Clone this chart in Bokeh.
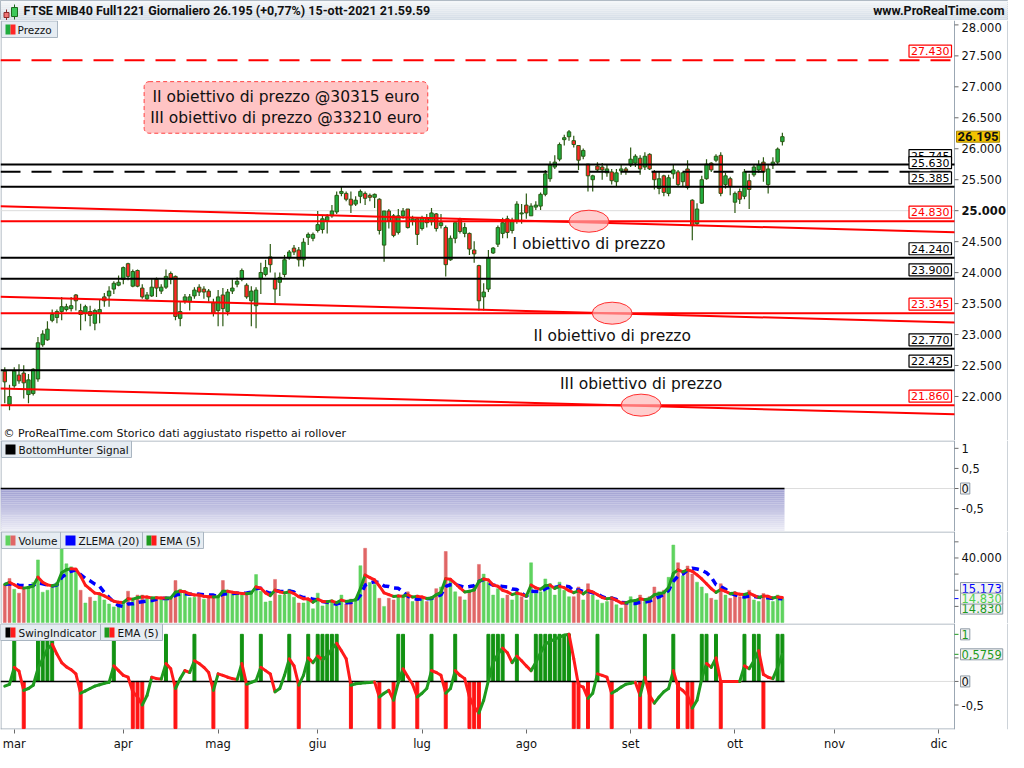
import numpy as np
from bokeh.plotting import figure
from bokeh.models import Range1d, FixedTicker, Label, BoxAnnotation, ColumnDataSource
from bokeh.layouts import column
from bokeh.embed import file_html
from bokeh.resources import INLINE

# ---------------- DATA ----------------
bar_index = list(range(-2, 163))

opens = [22409, 21873, 22173, 22346, 22378, 22031, 22047, 22283, 22835, 22914,
         23229, 23276, 23371, 23403, 23418, 23639, 23387, 23340, 23371, 23182,
         23340, 23608, 23624, 23734, 23797, 23891, 24144, 23781, 24034, 23750,
         23576, 23624, 23891, 23702, 23765, 23986, 23939, 23261, 23545, 23529,
         23624, 23765, 23734, 23702, 23513, 23387, 23639, 23371, 23702, 23813,
         23891, 23797, 23545, 23466, 23907, 23970, 24254, 23891, 23844, 23970,
         24239, 24396, 24365, 24207, 24570, 24554, 24680, 24696, 24838, 24917,
         24980, 25279, 25279, 25185, 25106, 25232, 25279, 25248, 25216, 25185,
         24444, 24995, 24917, 24649, 24917, 25027, 24838, 24869, 24712, 24869,
         24822, 24948, 24759, 24728, 24207, 24554, 24869, 24633, 24633, 24365,
         24113, 23608, 23734, 24317, 24459, 24633, 24869, 24680, 24838, 24948,
         25090, 24917, 25058, 25074, 25264, 25516, 25705, 25832, 26147, 26194,
         26131, 26052, 25879, 25752, 25500, 25721, 25705, 25611, 25626, 25468,
         25642, 25674, 25737, 25768, 25847, 25705, 25910, 25626, 25358, 25563,
         25279, 25595, 25626, 25468, 25674, 25169, 24790, 25122, 25516, 25768,
         25815, 25894, 25421, 25516, 25137, 25311, 25232, 25484, 25579, 25658,
         25784, 25421, 25737, 25784, 26115]
highs = [22472, 22189, 22472, 22520, 22504, 22362, 22456, 22961, 23071, 23213,
         23403, 23403, 23608, 23497, 23608, 23655, 23497, 23482, 23466, 23418,
         23560, 23671, 23781, 23860, 23954, 24097, 24160, 24049, 24049, 23813,
         23686, 23891, 23923, 23813, 24049, 24018, 23954, 23529, 23655, 23655,
         23765, 23813, 23781, 23734, 23576, 23718, 23750, 23734, 23891, 23923,
         24065, 23828, 23781, 23765, 24160, 24207, 24460, 24002, 24002, 24286,
         24365, 24444, 24412, 24554, 24649, 24649, 24995, 24917, 24948, 25090,
         25311, 25390, 25311, 25311, 25232, 25342, 25311, 25279, 25279, 25200,
         24995, 25027, 24948, 25027, 25043, 25027, 24917, 24885, 24917, 24948,
         25043, 24964, 24948, 24759, 24601, 24806, 24885, 24806, 24649, 24507,
         24128, 23828, 24365, 24412, 24759, 24885, 24917, 24885, 25153, 25106,
         25279, 25122, 25153, 25295, 25658, 25800, 25894, 26099, 26226, 26304,
         26210, 26052, 26005, 25752, 25579, 25784, 25768, 25737, 25674, 25674,
         25737, 25705, 26020, 25910, 25894, 25942, 25926, 25658, 25626, 25579,
         25579, 25752, 25658, 25626, 25815, 25185, 25122, 25563, 25832, 25784,
         25910, 25942, 25611, 25547, 25311, 25358, 25674, 25595, 25752, 25815,
         25863, 25752, 25863, 26020, 26257]
lows = [21889, 21779, 22142, 22204, 21968, 21889, 22015, 22236, 22803, 22898,
        23198, 23182, 23229, 23371, 23371, 23387, 23071, 23213, 23135, 23071,
        23182, 23450, 23450, 23655, 23781, 23813, 23876, 23765, 23765, 23576,
        23545, 23608, 23608, 23655, 23734, 23813, 23229, 23135, 23497, 23387,
        23576, 23624, 23576, 23529, 23292, 23135, 23135, 23308, 23655, 23765,
        23860, 23576, 23135, 23103, 23655, 23939, 24002, 23497, 23624, 23923,
        24207, 24286, 24097, 24097, 24444, 24507, 24649, 24633, 24633, 24885,
        24948, 25232, 25153, 24964, 25074, 25122, 25090, 25153, 25043, 24617,
        24176, 24712, 24570, 24617, 24869, 24712, 24759, 24444, 24680, 24727,
        24759, 24664, 24712, 23939, 24191, 24475, 24633, 24570, 24286, 24160,
        23387, 23387, 23686, 24302, 24412, 24554, 24554, 24633, 24790, 24790,
        24869, 24917, 25011, 25011, 25232, 25468, 25674, 25800, 26052, 26131,
        26020, 25658, 25832, 25311, 25311, 25626, 25500, 25547, 25421, 25390,
        25579, 25579, 25705, 25705, 25579, 25658, 25658, 25342, 25264, 25232,
        25232, 25516, 25390, 25390, 25342, 24522, 24759, 25106, 25500, 25626,
        25784, 25232, 25358, 25248, 24964, 25106, 25185, 25027, 25547, 25611,
        25468, 25279, 25674, 25737, 26052]
closes = [22236, 21999, 22409, 22252, 22220, 22268, 22440, 22867, 23008, 23087,
          23324, 23371, 23450, 23450, 23466, 23545, 23324, 23450, 23308, 23387,
          23403, 23545, 23702, 23828, 23844, 24081, 23939, 24018, 23781, 23608,
          23639, 23765, 23750, 23765, 23939, 23891, 23292, 23371, 23608, 23608,
          23718, 23686, 23686, 23608, 23340, 23608, 23418, 23686, 23750, 23860,
          24034, 23608, 23702, 23718, 24002, 24081, 24128, 23734, 23923, 24207,
          24333, 24333, 24207, 24491, 24617, 24617, 24775, 24869, 24901, 24995,
          25248, 25311, 25185, 25090, 25169, 25311, 25200, 25216, 25264, 24680,
          24995, 24838, 24601, 24917, 24995, 24727, 24869, 24617, 24885, 24806,
          24964, 24712, 24806, 24128, 24554, 24806, 24664, 24727, 24380, 24302,
          23545, 23686, 24239, 24396, 24727, 24806, 24649, 24838, 25106, 24964,
          24964, 25074, 25090, 25264, 25595, 25737, 25784, 26068, 26178, 26273,
          26068, 25815, 25973, 25563, 25563, 25658, 25658, 25674, 25484, 25611,
          25674, 25642, 25832, 25879, 25674, 25879, 25674, 25500, 25516, 25295,
          25532, 25658, 25421, 25611, 25374, 24759, 25027, 25500, 25752, 25658,
          25879, 25279, 25563, 25390, 25279, 25185, 25626, 25342, 25705, 25737,
          25626, 25674, 25784, 25995, 26195]

volumes = [23600, 27300, 20600, 18200, 20600, 22400, 24800, 38800, 18800, 20000,
           21800, 24800, 45500, 36400, 34500, 32700, 20000, 12100, 15700, 13300,
           17000, 14000, 11500, 9700, 11500, 12100, 19400, 14000, 17000, 17000,
           15700, 14000, 15700, 15000, 15000, 15400, 26000, 20600, 18200, 15400,
           15700, 17000, 14500, 15400, 15700, 16300, 26000, 19400, 17600, 17600,
           17000, 17600, 19400, 29700, 19400, 12700, 13300, 26700, 17000, 17000,
           20600, 15700, 12100, 12100, 14500, 8500, 18200, 10300, 12700, 14000,
           10300, 17000, 11500, 14500, 15000, 35200, 46000, 24800, 23600, 15000,
           10000, 15000, 14000, 17000, 16000, 19000, 13000, 17000, 15000, 13000,
           16000, 21000, 22000, 44000, 26000, 19000, 16000, 14000, 20000, 22000,
           36000, 30000, 25000, 17000, 21000, 15000, 17000, 14000, 20000, 16000,
           14000, 37000, 18000, 19000, 27000, 24000, 17000, 25000, 20000, 16000,
           16000, 22000, 14000, 24000, 17000, 14000, 12000, 13000, 16000, 11000,
           9000, 12000, 16000, 14000, 17000, 13000, 16000, 22000, 19000, 20000,
           28000, 48000, 37000, 29000, 35000, 30000, 25000, 22000, 18000, 15000,
           14000, 24000, 17000, 15000, 19000, 16000, 17000, 20000, 14000, 13000,
           18000, 16000, 13000, 17000, 14830]

swing_up_days = [0, 5, 6, 7, 8, 21, 32, 38, 48, 52, 58, 62, 64, 65, 66, 67, 68, 81, 82,
                 88, 93, 100, 101, 102, 103, 106, 110, 111, 112, 113, 114, 115, 116, 117,
                 123, 133, 139, 145, 146, 148, 154, 156, 157, 161, 162]
swing_down_days = [2, 14, 25, 26, 27, 34, 42, 49, 60, 71, 77, 80, 85, 91, 96, 97, 98,
                   118, 119, 121, 126, 132, 134, 140, 142, 143, 149, 158]
swing_ema = [-0.10, -0.06, 0.30, 0.22, -0.19, -0.15, -0.08, 0.27, 0.48, 0.69,
             0.79, 0.58, 0.40, 0.31, 0.25, 0.16, -0.25, -0.20, -0.15, -0.10,
             -0.07, -0.04, -0.02, 0.33, 0.23, 0.13, 0.09, -0.22, -0.33, -0.50,
             -0.30, 0.09, 0.06, 0.05, 0.38, 0.27, -0.15, 0.06, 0.23, 0.19,
             0.44, 0.38, 0.30, 0.19, -0.19, 0.16, 0.13, 0.09, 0.06, 0.04,
             0.38, -0.06, -0.02, 0.02, 0.30, 0.23, 0.16, -0.22, -0.15, 0.13,
             0.48, 0.33, -0.08, 0.13, 0.50, 0.40, 0.54, 0.46, 0.54, 0.69,
             0.81, 0.65, 0.48, -0.08, -0.05, -0.04, -0.03, -0.02, -0.01, -0.33,
             -0.25, -0.19, -0.40, -0.02, 0.27, 0.10, -0.06, -0.33, -0.25, -0.15,
             0.23, 0.19, 0.13, -0.25, -0.15, 0.23, 0.13, 0.06, -0.33, -0.54,
             -0.67, -0.40, 0.02, 0.40, 0.58, 0.71, 0.61, 0.40, 0.54, 0.44,
             0.33, 0.23, 0.40, 0.61, 0.79, 0.85, 0.90, 0.94, 0.98, 1.00,
             0.48, -0.08, -0.12, -0.36, -0.25, 0.16, 0.13, 0.09, -0.25, -0.19,
             -0.12, -0.06, -0.04, -0.02, -0.30, 0.09, -0.30, -0.46, -0.33, -0.22,
             -0.15, 0.23, -0.12, -0.19, -0.30, -0.57, -0.40, 0.06, 0.38, 0.30,
             0.50, 0.00, 0.00, 0.00, 0.00, 0.00, 0.33, 0.27, 0.44, 0.65,
             0.15, 0.09, 0.06, 0.30, 0.5759]

month_ticks = [0, 23, 43, 64, 86, 108, 130, 152, 173, 195]
month_labels = ["mar", "apr", "mag", "giu", "lug", "ago", "set", "ott", "nov", "dic"]
price_ticks = [22000, 22500, 23000, 23500, 24000, 24500, 25000, 25500, 26000, 26500, 27000, 27500, 28000]
unit_ticks = [-0.5, 0.5, 1]
volume_ticks = [10000, 20000, 30000, 40000, 50000]
volume_labelled = [40000]

black_levels = [25745, 25385, 24240, 23900, 22770, 22425]
black_dashed_level = 25630
red_levels = [24830, 23345, 21860]
red_dashed_level = 27430
trend_left = [25070, 23612, 22130]
trend_right = [24650, 23193, 21711]
target_bar = [121.2, 126.1, 132.2]
target_texts = ["I obiettivo di prezzo", "II obiettivo di prezzo", "III obiettivo di prezzo"]
target_text_price = [24459, 22977, 22204]
note_text = "II obiettivo di prezzo @30315 euro\nIII obiettivo di prezzo @33210 euro"
title_text = "FTSE MIB40 Full1221 Giornaliero 26.195 (+0,77%) 15-ott-2021 21.59.59"
last_price = 26195
zlema_last = 15173
ema_vol_last = 14830
vol_last = 14830
swing_last = 1
swing_ema_last = 0.5759

assert len(opens) == len(highs) == len(lows) == len(closes) == len(volumes) == len(swing_ema) == len(bar_index)

# ---------------- STYLE ----------------
FONT = "DejaVu Sans"
BFONT = "Roboto"
BORDER = "#9ba7b3"
TICKC = "#6a6a6a"
WICK = "#2c5a14"
CGREEN = "#20ac3e"
CRED = "#ff2626"
VGREEN = "#5fd35f"
VRED = "#e06666"
SGREEN = "#129212"
SRED = "#ff1414"
LGREEN = "#1e9a1e"
LRED = "#ff1a1a"
TOTAL_W = 1008
PLOT_W = 954                      # width of the data area, the rest is the price axis
X0, X1 = -2.9, 198.3              # visible bar-index range of the data area
DX = (X1 - X0) / PLOT_W           # data units per pixel
XF = X0 + TOTAL_W * DX            # right end incl. axis column
H_HEAD, H_PRICE, H_BH, H_VOL, H_SW = 20, 420, 91, 92, 106
LAST = bar_index[-1]


def fmt_it(v, dec=0):
    s = f"{abs(v):,.{dec}f}".replace(",", "X").replace(".", ",").replace("X", ".")
    return ("-" if v < 0 else "") + s


xr = Range1d(X0, XF)


def px2x(px):
    return X0 + px * DX


def px2y(f, h, py):
    y0, y1 = f.y_range.start, f.y_range.end
    return y1 - py * (y1 - y0) / h


def make_fig(h, y0, y1, xaxis=False, top_border=True):
    f = figure(frame_width=TOTAL_W, frame_height=h, x_range=xr, y_range=Range1d(y0, y1),
               x_axis_location="below" if xaxis else None, y_axis_location=None,
               toolbar_location=None, output_backend="svg", min_border=0)
    f.grid.visible = False
    f.outline_line_color = None
    f.border_fill_color = "white"
    dy = (y1 - y0) / h
    # frame borders: left edge, axis line, right edge, top separator
    f.segment(x0=[X0 + 0.5 * DX, X1, XF - 0.5 * DX], y0=[y0] * 3, x1=[X0 + 0.5 * DX, X1, XF - 0.5 * DX],
              y1=[y1] * 3, line_color=BORDER, line_width=1)
    if top_border:
        f.segment(x0=[X0], y0=[y1 - 0.5 * dy], x1=[X1], y1=[y1 - 0.5 * dy], line_color=BORDER, line_width=1)
    return f


def axis_ticks(f, ticks, colors=None):
    n = len(ticks)
    f.segment(x0=[X1] * n, y0=ticks, x1=[X1 + 4 * DX] * n, y1=ticks,
              line_color=colors if colors else TICKC, line_width=1)


def axis_label(f, v, text, bold=False, baseline="middle", yoff=0):
    f.add_layout(Label(x=X1, y=v, x_offset=7, y_offset=yoff, text=text, text_baseline=baseline,
                       text_font=FONT, text_font_size="11.5px", text_color="#111111",
                       text_font_style="bold" if bold else "normal"))


def legend(f, h, x0, x1, text, colors, icon_x, text_x):
    f.add_layout(BoxAnnotation(left=px2x(x0), right=px2x(x1), top=px2y(f, h, 0.5), bottom=px2y(f, h, 17),
                               fill_color="#e6ecf2", fill_alpha=1, line_color="#a9b5c1", line_alpha=1, line_width=1))
    w = 10.0 / len(colors)
    for k, c in enumerate(colors):
        f.add_layout(BoxAnnotation(left=px2x(icon_x + k * w), right=px2x(icon_x + (k + 1) * w),
                                   top=px2y(f, h, 4), bottom=px2y(f, h, 14),
                                   fill_color=c, fill_alpha=1, line_alpha=0))
    f.add_layout(Label(x=px2x(text_x), y=px2y(f, h, 9), text=text, text_baseline="middle",
                       text_font=FONT, text_font_size="10.5px", text_color="#111111"))


def axis_value(f, v, text, color, bg="#f2f2f2", border="#8d99a5", bold=False, font=FONT,
               size="11.5px", yoff=0, xoff=6):
    f.add_layout(Label(x=X1, y=v, x_offset=xoff, y_offset=yoff, text=text, text_color=color,
                       text_font=font, text_font_size=size, text_font_style="bold" if bold else "normal",
                       text_align="left", text_baseline="middle", background_fill_color=bg,
                       border_line_color=border, border_line_width=1, padding=1))


# ---------------- HEADER ----------------
head = figure(frame_width=TOTAL_W, frame_height=H_HEAD, x_range=Range1d(0, TOTAL_W),
              y_range=Range1d(0, H_HEAD), x_axis_location=None, y_axis_location=None,
              toolbar_location=None, output_backend="svg", min_border=0)
head.grid.visible = False
head.outline_line_color = BORDER
nb = 10
g0 = np.array([244, 246, 249])
g1 = np.array([212, 221, 230])
for k in range(nb):
    cc = g0 + (g1 - g0) * k / (nb - 1)
    head.quad(left=0, right=TOTAL_W, top=H_HEAD - k * H_HEAD / nb, bottom=H_HEAD - (k + 1) * H_HEAD / nb,
              fill_color="#%02x%02x%02x" % tuple(int(v) for v in cc), line_alpha=0)
head.segment(x0=[6, 14], y0=[0, 1], x1=[6, 14], y1=[11, 16], line_color=["#8a2a2a", "#1d6a1d"], line_width=1)
head.quad(left=[3.5, 11], right=[8.5, 17], bottom=[3, 4], top=[8, 13],
          fill_color=["#f07272", "#3cc85a"], line_color=["#8a2a2a", "#1d6a1d"])
head.add_layout(Label(x=23, y=10, text=title_text, text_baseline="middle", text_font=BFONT,
                      text_font_size="12.5px", text_font_style="bold", text_color="#111111"))
head.add_layout(Label(x=TOTAL_W - 4, y=10, text="www.ProRealTime.com", text_align="right",
                      text_baseline="middle", text_font=BFONT, text_font_size="12.5px",
                      text_font_style="bold", text_color="#111111"))

# ---------------- PRICE PANEL ----------------
P_Y0, P_Y1 = 21289, 28071
p1 = make_fig(H_PRICE, P_Y0, P_Y1, top_border=False)

p1.segment(x0=[X0], y0=[25000], x1=[X1], y1=[25000], line_color="#dcdcdc", line_width=1)

o = np.array(opens); c = np.array(closes)
src = ColumnDataSource(dict(x=bar_index, h=highs, l=lows, top=np.maximum(o, c), bottom=np.minimum(o, c),
                            fill=[CGREEN if cc >= oo else CRED for oo, cc in zip(opens, closes)]))
p1.segment(x0="x", y0="l", x1="x", y1="h", source=src, line_color=WICK, line_width=1.2)
p1.vbar(x="x", width=0.72, top="top", bottom="bottom", fill_color="fill", line_color=WICK,
        line_width=1, source=src)

n_b = len(black_levels)
p1.segment(x0=[X0] * n_b, y0=black_levels, x1=[X1] * n_b, y1=black_levels, line_color="black", line_width=2)
p1.segment(x0=[X0], y0=[black_dashed_level], x1=[X1], y1=[black_dashed_level], line_color="black",
           line_width=2, line_dash="20 11")
n_r = len(red_levels)
p1.segment(x0=[X0] * n_r, y0=red_levels, x1=[X1] * n_r, y1=red_levels, line_color="#ff0000", line_width=2)
p1.segment(x0=[X0], y0=[red_dashed_level], x1=[X1], y1=[red_dashed_level], line_color="#ff0000",
           line_width=2, line_dash="20 11")
p1.segment(x0=[X0] * 3, y0=trend_left, x1=[X1] * 3, y1=trend_right, line_color="#ff0000", line_width=2)

p1.ellipse(x=target_bar, y=red_levels, width=40, height=22, width_units="screen", height_units="screen",
           fill_color="#ffb4b4", fill_alpha=0.65, line_color="#ff3030", line_width=1)

for tx, ty, tt in zip(target_bar, target_text_price, target_texts):
    p1.add_layout(Label(x=tx, y=ty, text=tt, text_align="center", text_baseline="middle",
                        text_font=FONT, text_font_size="15.5px", text_color="#111111"))

p1.add_layout(Label(x=57.3, y=26667, text=note_text, text_align="center", text_baseline="middle",
                    text_font=FONT, text_font_size="15.5px", text_color="#111111",
                    background_fill_color="#ffc4c4", border_line_color="#ff4040", border_line_dash="4 3",
                    border_line_width=1, border_radius=5, padding=6))


def level_label(v, color):
    p1.add_layout(Label(x=X1, y=v, x_offset=-3, y_offset=3, text=fmt_it(v), text_align="right",
                        text_baseline="bottom", text_color=color, text_font=FONT, text_font_size="11px",
                        background_fill_color="white", border_line_color=color, border_line_width=1.2,
                        padding=2))


level_label(red_dashed_level, "#ff0000")
level_label(black_levels[0], "black")
level_label(black_dashed_level, "black")
level_label(black_levels[1], "black")
level_label(red_levels[0], "#ff0000")
level_label(black_levels[2], "black")
level_label(black_levels[3], "black")
level_label(red_levels[1], "#ff0000")
level_label(black_levels[4], "black")
level_label(black_levels[5], "black")
level_label(red_levels[2], "#ff0000")

# price axis (drawn in the axis column)
axis_ticks(p1, price_ticks)
for t in price_ticks:
    if t == price_ticks[-1]:
        axis_label(p1, P_Y1, fmt_it(t), baseline="top", yoff=-2)
    else:
        axis_label(p1, t, fmt_it(t), bold=(t == 25000))
axis_value(p1, last_price, fmt_it(last_price), "#111111", bg="#f4c400", border="#a68400", bold=True,
           font=BFONT, size="13px", xoff=2)

legend(p1, H_PRICE, 1, 57, "Prezzo", [CGREEN, CRED], 5, 17)
p1.add_layout(Label(x=px2x(3), y=px2y(p1, H_PRICE, H_PRICE - 7),
                    text="\u00a9 ProRealTime.com  Storico dati aggiustato rispetto ai rollover",
                    text_baseline="middle", text_font=FONT, text_font_size="11px", text_color="#111111"))

# ---------------- BOTTOMHUNTER PANEL ----------------
p2 = make_fig(H_BH, -1.07, 1.195)
nb = 22
b0 = np.array([160, 160, 210])
b1 = np.array([236, 236, 246])
ys = np.linspace(0, -1.07, nb + 1)
for k in range(nb):
    cc = b0 + (b1 - b0) * k / (nb - 1)
    p2.quad(left=X0, right=LAST + 0.45, top=ys[k], bottom=ys[k + 1],
            fill_color="#%02x%02x%02x" % tuple(int(v) for v in cc), line_alpha=0)
p2.segment(x0=[LAST + 0.45], y0=[0], x1=[X1], y1=[0], line_color="#dddddd", line_width=1)
p2.segment(x0=[X0], y0=[0], x1=[LAST + 0.45], y1=[0], line_color="black", line_width=1.5)
axis_ticks(p2, unit_ticks + [0])
for t in unit_ticks:
    axis_label(p2, t, fmt_it(t, 0 if float(t).is_integer() else 1))
axis_value(p2, 0, "0", "#111111")
legend(p2, H_BH, 1, 131, "BottomHunter Signal", ["#000000"], 5, 18)

# ---------------- VOLUME PANEL ----------------
p3 = make_fig(H_VOL, -600, 56400)
vcol = [VGREEN if (closes[k] >= (closes[k - 1] if k > 0 else opens[k])) else VRED for k in range(len(closes))]
p3.vbar(x=bar_index, width=0.62, top=volumes, bottom=0, fill_color=vcol, line_color=vcol, line_width=0.5)


def ema(vals, n):
    a = 2.0 / (n + 1)
    out = [float(vals[0])]
    for v in vals[1:]:
        out.append(out[-1] + a * (v - out[-1]))
    return out


lag = (20 - 1) // 2
adj = [2 * volumes[t] - volumes[t - lag] if t >= lag else volumes[t] for t in range(len(volumes))]
zlema = ema(adj, 20)
ema5 = ema(volumes, 5)
p3.line(bar_index, zlema, line_color="#0000ff", line_width=3.5, line_dash="7 5")
ecol = [LGREEN if ema5[k + 1] > ema5[k] else LRED for k in range(len(ema5) - 1)]
p3.segment(x0=bar_index[:-1], y0=ema5[:-1], x1=bar_index[1:], y1=ema5[1:], line_color=ecol,
           line_width=3, line_cap="round")
axis_ticks(p3, volume_ticks + [vol_last], colors=[TICKC] * len(volume_ticks) + ["#0000ff"])
for t in volume_labelled:
    axis_label(p3, t, fmt_it(t))
axis_value(p3, zlema_last, fmt_it(zlema_last), "#0000ff", yoff=10)
axis_value(p3, ema_vol_last, fmt_it(ema_vol_last), LGREEN, yoff=-10)
axis_value(p3, vol_last, fmt_it(vol_last), "#4fcf4f")
legend(p3, H_VOL, 1, 60, "Volume", [VGREEN, VRED], 5, 18)
legend(p3, H_VOL, 60, 142, "ZLEMA (20)", ["#0000ff"], 65, 78)
legend(p3, H_VOL, 142, 203, "EMA (5)", [LGREEN, LRED], 146, 159)

# ---------------- SWING PANEL ----------------
S_Y0, S_Y1 = -1.02, 1.23
p4 = make_fig(H_SW, S_Y0, S_Y1, xaxis=True)
xa = p4.xaxis[0]
xa.ticker = FixedTicker(ticks=month_ticks)
xa.major_label_overrides = dict(zip(month_ticks, month_labels))
xa.axis_line_color = None
xa.major_tick_line_color = TICKC
xa.major_tick_in = 0
xa.major_tick_out = 4
xa.minor_tick_line_color = None
xa.major_label_text_font = FONT
xa.major_label_text_font_size = "11.5px"
xa.major_label_text_color = "#111111"
xa.major_label_standoff = 3
dys = (S_Y1 - S_Y0) / H_SW
p4.segment(x0=[X0], y0=[S_Y0 + 0.5 * dys], x1=[X1], y1=[S_Y0 + 0.5 * dys], line_color=BORDER, line_width=1)

p4.segment(x0=[LAST + 0.45], y0=[0], x1=[X1], y1=[0], line_color="#dddddd", line_width=1)
p4.vbar(x=swing_up_days, width=0.62, top=1, bottom=0, fill_color=SGREEN, line_color=SGREEN)
p4.vbar(x=swing_down_days, width=0.62, top=0, bottom=-1, fill_color=SRED, line_color=SRED)
p4.segment(x0=[X0], y0=[0], x1=[LAST + 0.45], y1=[0], line_color="black", line_width=1.5)
scol = [LGREEN if swing_ema[k + 1] > swing_ema[k] else LRED for k in range(len(swing_ema) - 1)]
p4.segment(x0=bar_index[:-1], y0=swing_ema[:-1], x1=bar_index[1:], y1=swing_ema[1:], line_color=scol,
           line_width=3, line_cap="round")
axis_ticks(p4, [-0.5, 0, 0.5, 1, swing_ema_last], colors=[TICKC, TICKC, TICKC, LGREEN, LGREEN])
axis_label(p4, -0.5, fmt_it(-0.5, 1))
axis_value(p4, swing_last, fmt_it(swing_last), LGREEN)
axis_value(p4, swing_ema_last, fmt_it(swing_ema_last, 4), LGREEN)
axis_value(p4, 0, "0", "#111111")
legend(p4, H_SW, 0, 100, "SwingIndicator", ["#000000", LRED], 5, 18)
legend(p4, H_SW, 100, 162, "EMA (5)", [LGREEN, LRED], 104, 117)

page = column(head, p1, p2, p3, p4, spacing=0)
open("out.html", "w").write(file_html(page, INLINE))
